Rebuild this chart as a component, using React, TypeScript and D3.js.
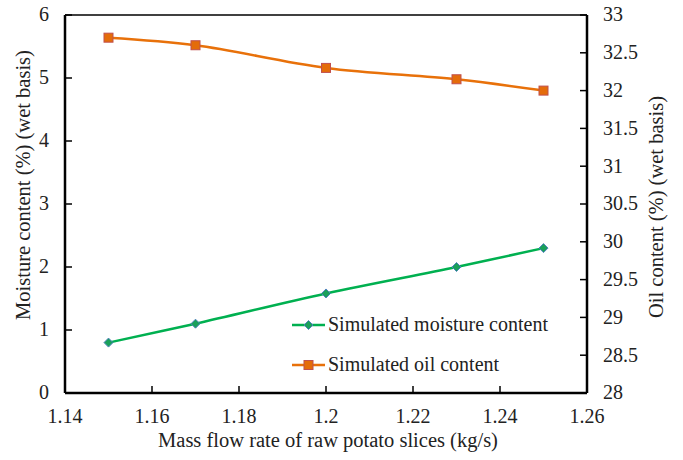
import React, { useEffect, useRef } from 'react';
import * as d3 from 'd3';

const flowRates = [1.15, 1.17, 1.2, 1.23, 1.25];
const moisture = [0.8, 1.1, 1.58, 2.0, 2.3];
const oil = [32.7, 32.6, 32.3, 32.15, 32.0];
const xTicks = [1.14, 1.16, 1.18, 1.2, 1.22, 1.24, 1.26];
const leftTicks = [0, 1, 2, 3, 4, 5, 6];
const rightTicks = [28, 28.5, 29, 29.5, 30, 30.5, 31, 31.5, 32, 32.5, 33];

const GREEN = '#00b050';
const ORANGE = '#e8710a';
const FONT = '"Liberation Serif", "Times New Roman", serif';

const App: React.FC = () => {
  const svgRef = useRef<SVGSVGElement>(null);

  useEffect(() => {
    if (!svgRef.current) return;
    const svg = d3.select(svgRef.current);
    svg.selectAll('*').remove();

    const left = 65, right = 587, top = 15, bottom = 393;

    const x = d3.scaleLinear().domain([1.14, 1.26]).range([left, right]);
    const yL = d3.scaleLinear().domain([0, 6]).range([bottom, top]);
    const yR = d3.scaleLinear().domain([28, 33]).range([bottom, top]);

    const g = svg.append('g').style('font-family', FONT).style('font-size', '20px');

    // frame
    g.append('line').attr('x1', left).attr('x2', right).attr('y1', top).attr('y2', top)
      .attr('stroke', '#000').attr('stroke-width', 1.5);
    g.append('line').attr('x1', left).attr('x2', left).attr('y1', top).attr('y2', bottom)
      .attr('stroke', '#000').attr('stroke-width', 2.5);
    g.append('line').attr('x1', left).attr('x2', right).attr('y1', bottom).attr('y2', bottom)
      .attr('stroke', '#000').attr('stroke-width', 2.5);
    g.append('line').attr('x1', right).attr('x2', right).attr('y1', top).attr('y2', bottom)
      .attr('stroke', '#000').attr('stroke-width', 2.5);

    // x ticks
    xTicks.forEach(t => {
      g.append('line').attr('x1', x(t)).attr('x2', x(t)).attr('y1', bottom).attr('y2', bottom - 7)
        .attr('stroke', '#000').attr('stroke-width', 1.5);
      g.append('text').attr('x', x(t)).attr('y', 423).attr('text-anchor', 'middle')
        .attr('fill', '#222').text(String(t));
    });

    leftTicks.forEach(t => {
      g.append('line').attr('x1', left).attr('x2', left + 7).attr('y1', yL(t)).attr('y2', yL(t))
        .attr('stroke', '#000').attr('stroke-width', 1.5);
      g.append('text').attr('x', 49).attr('y', yL(t)).attr('dy', '0.32em')
        .attr('text-anchor', 'end').attr('fill', '#222').text(String(t));
    });

    rightTicks.forEach(t => {
      g.append('line').attr('x1', right - 7).attr('x2', right).attr('y1', yR(t)).attr('y2', yR(t))
        .attr('stroke', '#000').attr('stroke-width', 1.5);
      g.append('text').attr('x', 603).attr('y', yR(t)).attr('dy', '0.32em')
        .attr('text-anchor', 'start').attr('fill', '#222').text(String(t));
    });

    // axis titles
    g.append('text').attr('x', (left + right) / 2 + 2).attr('y', 447).attr('text-anchor', 'middle')
      .style('font-size', '20.5px').attr('fill', '#222')
      .text('Mass flow rate of raw potato slices (kg/s)');
    g.append('text').attr('transform', `translate(30,${(top + bottom) / 2 - 19}) rotate(-90)`)
      .attr('text-anchor', 'middle').style('font-size', '20.5px').attr('fill', '#222')
      .text('Moisture content (%) (wet basis)');
    g.append('text').attr('transform', `translate(663,${(top + bottom) / 2 + 3}) rotate(-90)`)
      .attr('text-anchor', 'middle').style('font-size', '20.5px').attr('fill', '#222')
      .text('Oil content (%) (wet basis)');

    const curve = d3.curveCatmullRom.alpha(0.5);

    const moistLine = d3.line<number>().x((_, i) => x(flowRates[i])).y(d => yL(d)).curve(curve);
    g.append('path').attr('d', moistLine(moisture)).attr('fill', 'none')
      .attr('stroke', GREEN).attr('stroke-width', 2.5);

    const oilLine = d3.line<number>().x((_, i) => x(flowRates[i])).y(d => yR(d)).curve(curve);
    g.append('path').attr('d', oilLine(oil)).attr('fill', 'none')
      .attr('stroke', ORANGE).attr('stroke-width', 2.5);

    const diamond = (cx: number, cy: number) =>
      g.append('path').attr('d', `M${cx},${cy - 4.5}L${cx + 4.5},${cy}L${cx},${cy + 4.5}L${cx - 4.5},${cy}Z`)
        .attr('fill', '#1aa05a').attr('stroke', '#4f81bd').attr('stroke-width', 1);
    const square = (cx: number, cy: number) =>
      g.append('rect').attr('x', cx - 4.5).attr('y', cy - 4.5).attr('width', 9).attr('height', 9)
        .attr('fill', '#e46c0a').attr('stroke', '#c0504d').attr('stroke-width', 1);

    moisture.forEach((v, i) => diamond(x(flowRates[i]), yL(v)));
    oil.forEach((v, i) => square(x(flowRates[i]), yR(v)));

    // legend
    const legend = [
      { label: 'Simulated moisture content', color: GREEN, y: 325, mark: diamond },
      { label: 'Simulated oil content', color: ORANGE, y: 365, mark: square },
    ];
    legend.forEach(l => {
      g.append('line').attr('x1', 292).attr('x2', 325).attr('y1', l.y).attr('y2', l.y)
        .attr('stroke', l.color).attr('stroke-width', 2.5);
      l.mark(308.5, l.y);
      g.append('text').attr('x', 328).attr('y', l.y).attr('dy', '0.32em')
        .attr('fill', '#222').text(l.label);
    });
  }, []);

  return (
    <svg ref={svgRef} width={683} height={460}
      style={{ position: 'absolute', left: 0, top: 0, background: '#fff' }} />
  );
};

export default App;
